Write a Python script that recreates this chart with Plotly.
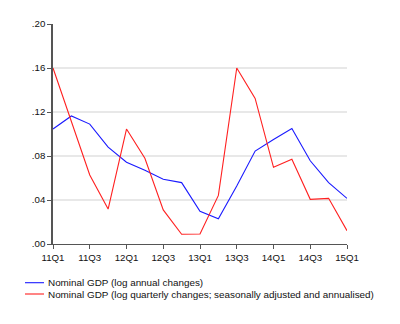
import plotly.graph_objects as go

quarters = ["11Q1","11Q2","11Q3","11Q4","12Q1","12Q2","12Q3","12Q4",
            "13Q1","13Q2","13Q3","13Q4","14Q1","14Q2","14Q3","14Q4","15Q1"]
annual = [0.1045,0.1164,0.109,0.088,0.0743,0.067,0.0588,0.0558,
          0.0297,0.023,0.0527,0.0845,0.095,0.105,0.0757,0.0558,0.0415]
quarterly = [0.160,0.111,0.0627,0.0318,0.1045,0.078,0.031,0.0088,
             0.0091,0.0442,0.160,0.1324,0.0697,0.077,0.0406,0.0415,0.0121]
y_ticks = [0.0,0.04,0.08,0.12,0.16,0.20]
y_labels = [".00",".04",".08",".12",".16",".20"]
x_tick_labels = ["11Q1","11Q3","12Q1","12Q3","13Q1","13Q3","14Q1","14Q3","15Q1"]
legend_names = ["Nominal GDP (log annual changes)",
                "Nominal GDP (log quarterly changes; seasonally adjusted and annualised)"]
colors = ["#1a1aff", "#ff2020"]

xs = list(range(len(quarters)))
x_tick_vals = [quarters.index(q) for q in x_tick_labels]

fig = go.Figure()
fig.add_trace(go.Scatter(x=xs, y=annual, mode="lines", name=legend_names[0],
                         line=dict(color=colors[0], width=1.1), showlegend=False))
fig.add_trace(go.Scatter(x=xs, y=quarterly, mode="lines", name=legend_names[1],
                         line=dict(color=colors[1], width=1.1), showlegend=False))

font = dict(family="Liberation Sans, Arial, sans-serif", size=9.7, color="#111")
legend_font = dict(family="Liberation Sans, Arial, sans-serif", size=9.9, color="#111")

fig.update_layout(
    width=400, height=324,
    margin=dict(l=53, r=53, t=24, b=80),
    paper_bgcolor="white", plot_bgcolor="white",
    font=font,
    xaxis=dict(range=[0, 16], tickvals=x_tick_vals, ticktext=x_tick_labels,
               showgrid=False, zeroline=False, showline=True, linecolor="#555",
               linewidth=1.2, ticks="outside", ticklen=4, tickcolor="#555",
               tickfont=font),
    yaxis=dict(range=[0, 0.20], tickvals=y_ticks, ticktext=y_labels,
               showgrid=True, gridcolor="#e8e8e8", gridwidth=1.5, zeroline=False,
               showline=True, linecolor="#555", linewidth=1.5, ticks="outside",
               ticklen=4, tickcolor="#555", tickfont=font),
)

# custom legend (positions in paper coordinates of a 294x220 px plot area)
legend_y = [282.7, 294.0]
for i, name in enumerate(legend_names):
    yp = 1 - (legend_y[i] - 24) / 220
    fig.add_shape(type="line", xref="paper", yref="paper",
                  x0=(25 - 53) / 294, x1=(44 - 53) / 294, y0=yp, y1=yp,
                  line=dict(color=colors[i], width=1.1))
    fig.add_annotation(text=name, xref="paper", yref="paper",
                       x=(46 - 53) / 294, y=yp, xanchor="left", yanchor="middle",
                       showarrow=False, font=legend_font)

fig.write_html("out.html")
